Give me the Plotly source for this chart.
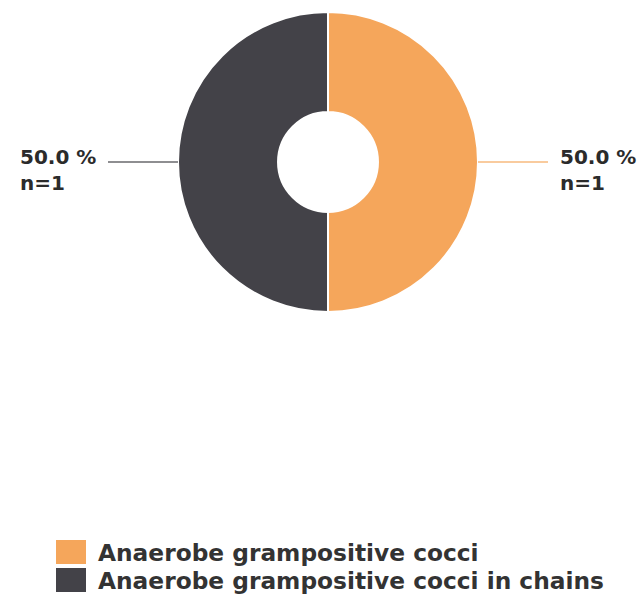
import math
import plotly.graph_objects as go

# ---- data ----
categories = ["Anaerobe grampositive cocci", "Anaerobe grampositive cocci in chains"]
counts = [1, 1]
colors = ["#F5A65B", "#434248"]
line_colors = ["#F9CB9E", "#8E8E91"]

W, H = 639, 600
FONT = "DejaVu Sans"

# pie geometry (pixels, from top-left)
cx, cy, R = 328, 162, 150
hole = 1 / 3
dom_x = [(cx - R) / W, (cx + R) / W]
dom_y = [(H - (cy + R)) / H, (H - (cy - R)) / H]

fig = go.Figure()
fig.add_trace(go.Pie(
    labels=categories, values=counts, hole=hole, sort=False,
    direction="clockwise", rotation=0,
    marker=dict(colors=colors, line=dict(color="white", width=2)),
    textinfo="none", showlegend=False,
    domain=dict(x=dom_x, y=dom_y),
))

def px(x):
    return x / W

def py(y):
    return 1 - y / H

total = sum(counts)
shapes = []
annotations = []
cum = 0
LEAD = 70
GAP = 10
for cat, n, lc in zip(categories, counts, line_colors):
    frac = n / total
    mid = (cum + frac / 2) * 2 * math.pi  # clockwise from 12 o'clock
    cum += frac
    sx = cx + R * math.sin(mid)
    sy = cy - R * math.cos(mid)
    side = 1 if math.sin(mid) >= 0 else -1
    ex = sx + side * LEAD
    shapes.append(dict(type="line", xref="paper", yref="paper",
                       x0=px(sx), y0=py(sy), x1=px(ex), y1=py(sy),
                       line=dict(color=lc, width=2)))
    annotations.append(dict(
        xref="paper", yref="paper", x=px(ex + side * GAP), y=py(sy - 19),
        xanchor="left" if side > 0 else "right", yanchor="top", align="left",
        showarrow=False,
        text=f"<b>{frac*100:.1f} %</b><br><b>n={n}</b>",
        font=dict(family=FONT, size=20, color="#2b2b2b"),
    ))

# manual legend
LX, LY0, ROW = 56, 540, 28
SQ_W, SQ_H = 30, 24
for i, (cat, c) in enumerate(zip(categories, colors)):
    top = LY0 + i * ROW
    shapes.append(dict(type="rect", xref="paper", yref="paper",
                       x0=px(LX), x1=px(LX + SQ_W), y0=py(top + SQ_H), y1=py(top),
                       fillcolor=c, line=dict(width=0)))
    annotations.append(dict(
        xref="paper", yref="paper", x=px(LX + SQ_W + 10), y=py(top + SQ_H / 2),
        xanchor="left", yanchor="middle", showarrow=False,
        text=f"<b>{cat}</b>",
        font=dict(family=FONT, size=23.3, color="#333333"),
    ))

fig.update_layout(
    width=W, height=H, margin=dict(l=0, r=0, t=0, b=0),
    paper_bgcolor="white", plot_bgcolor="white",
    shapes=shapes, annotations=annotations, showlegend=False,
)
fig.write_html("out.html", config={"displayModeBar": False},
               post_script="document.body.style.margin='0';document.body.style.overflow='hidden';")
